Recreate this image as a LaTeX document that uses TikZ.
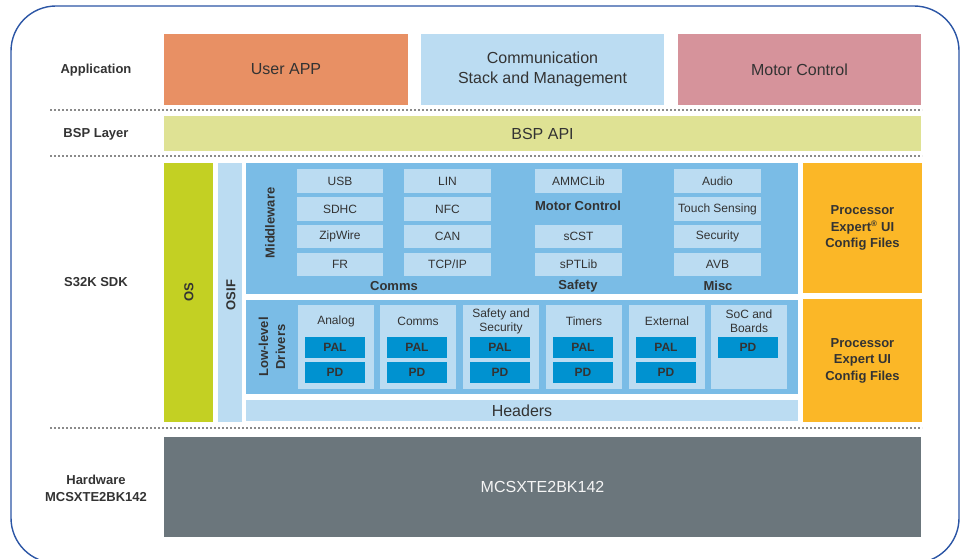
\documentclass[tikz,border=0pt]{standalone}
\usepackage{fontspec}
\setmainfont{Liberation Sans}
\definecolor{txt}{HTML}{333333}
\definecolor{appor}{HTML}{E89064}
\definecolor{ltblue}{HTML}{BBDCF2}
\definecolor{pinkc}{HTML}{D6939B}
\definecolor{bspc}{HTML}{DFE294}
\definecolor{limec}{HTML}{C3D023}
\definecolor{midblue}{HTML}{7ABCE6}
\definecolor{palblue}{HTML}{0092D0}
\definecolor{orc}{HTML}{FBB727}
\definecolor{hwgrey}{HTML}{6B767C}
\definecolor{frame}{HTML}{2B55A5}
\definecolor{dotc}{HTML}{8A8A8A}
\newcommand\mkbox[7]{\node[#6, minimum width={((#4)-(#2))*1pt}, minimum height={((#5)-(#3))*1pt}] (#1) at ({((#2)+(#4))/2},{((#3)+(#5))/2}) {#7};}
\tikzset{
  blk/.style={inner sep=0pt, outer sep=0pt, align=center, text=txt},
  big/.style={blk, font=\fontsize{16}{20}\selectfont},
  sml/.style={blk, fill=ltblue, font=\fontsize{12}{14}\selectfont},
  lbl/.style={blk, font=\bfseries\fontsize{13}{16}\selectfont},
  pal/.style={blk, fill=palblue, font=\bfseries\fontsize{12}{14}\selectfont},
  dotline/.style={draw=dotc, line width=1.8pt, dash pattern=on 1.8pt off 2.2pt}
}
\begin{document}
\begin{tikzpicture}[x=1pt,y=-1pt]
\useasboundingbox (0,0) rectangle (963,559);
\begin{scope}
\clip (0,0) rectangle (963,559);
\draw[frame, line width=1.4pt, rounded corners=45pt] (11,6) rectangle (959,563);
\end{scope}
% left labels
\node[lbl] (lapp) at (96,70) {Application};
\node[lbl] (lbsp) at (96,134) {BSP Layer};
\node[lbl] (lsdk) at (96,282) {S32K SDK};
\node[lbl, font=\bfseries\fontsize{13}{17}\selectfont] (lhw) at (96,488) {Hardware\\MCSXTE2BK142};
% dotted separators
\coordinate (d1a) at (50,110); \coordinate (d1b) at (922,110);
\coordinate (d2a) at (50,156); \coordinate (d2b) at (922,156);
\coordinate (d3a) at (50,428); \coordinate (d3b) at (922,428);
\draw[dotline] (d1a) -- (d1b);
\draw[dotline] (d2a) -- (d2b);
\draw[dotline] (d3a) -- (d3b);
% application layer
\mkbox{uapp}{164}{34}{408}{105}{big, fill=appor}{User APP}
\mkbox{comm}{421}{34}{664}{105}{big, fill=ltblue}{Communication\\Stack and Management}
\mkbox{motc}{678}{34}{921}{105}{big, fill=pinkc}{Motor Control}
% BSP
\mkbox{bsp}{164}{116}{921}{151}{big, fill=bspc}{BSP API}
% SDK
\mkbox{os}{164}{163}{213}{422}{blk, fill=limec}{}
\node[lbl, rotate=90] (ost) at (189,292) {OS};
\mkbox{osif}{218}{163}{242}{422}{blk, fill=ltblue}{}
\node[lbl, rotate=90] (osift) at (231,295) {OSIF};
\mkbox{mw}{246}{163}{798}{294}{blk, fill=midblue}{}
\node[lbl, rotate=90] (mwt) at (270,223) {Middleware};
% middleware small boxes
\mkbox{usb}{297}{169}{383}{193}{sml}{USB}
\mkbox{sdhc}{297}{197}{383}{221}{sml}{SDHC}
\mkbox{zip}{297}{225}{383}{248}{sml}{ZipWire}
\mkbox{fr}{297}{253}{383}{276}{sml}{FR}
\mkbox{lin}{404}{169}{491}{193}{sml}{LIN}
\mkbox{nfc}{404}{197}{491}{221}{sml}{NFC}
\mkbox{can}{404}{225}{491}{248}{sml}{CAN}
\mkbox{tcp}{404}{253}{491}{276}{sml}{TCP/IP}
\mkbox{ammc}{535}{169}{622}{193}{sml}{AMMCLib}
\node[lbl] (mct) at (578,206) {Motor Control};
\mkbox{scst}{535}{225}{622}{248}{sml}{sCST}
\mkbox{sptl}{535}{253}{622}{276}{sml}{sPTLib}
\mkbox{aud}{674}{169}{761}{193}{sml}{Audio}
\mkbox{touch}{674}{197}{761}{221}{sml}{Touch Sensing}
\mkbox{sec}{674}{225}{761}{248}{sml}{Security}
\mkbox{avb}{674}{253}{761}{276}{sml}{AVB}
\node[lbl] (commst) at (394,286) {Comms};
\node[lbl] (safet) at (578,286) {Safety};
\node[lbl] (misct) at (718,286) {Misc};
% processor expert boxes
\mkbox{pe1}{803}{163}{922}{293}{lbl, fill=orc, font=\bfseries\fontsize{13}{16.5}\selectfont}{Processor\\Expert\textsuperscript{\fontsize{8}{8}\selectfont ®} UI\\Config Files}
\mkbox{pe2}{803}{299}{922}{422}{lbl, fill=orc, font=\bfseries\fontsize{13}{16.5}\selectfont}{Processor\\Expert UI\\Config Files}
% low-level drivers
\mkbox{lld}{246}{300}{798}{394}{blk, fill=midblue}{}
\node[lbl, rotate=90, font=\bfseries\fontsize{13}{17}\selectfont] (lldt) at (272,347) {Low-level\\Drivers};
\foreach \i/\x/\t in {1/298/Analog, 2/380/Comms, 3/463/{Safety and\\Security}, 4/546/Timers, 5/629/External, 6/711/{SoC and\\Boards}}{
  \mkbox{drv\i}{\x}{305}{\x+76}{389}{blk, fill=ltblue}{}
  \node[blk, font=\fontsize{12}{14}\selectfont] (drvt\i) at (\x+38,321) {\t};
}
\foreach \i/\x in {1/298, 2/380, 3/463, 4/546, 5/629}{
  \mkbox{pal\i}{\x+7}{337}{\x+67}{358}{pal}{PAL}
  \mkbox{pd\i}{\x+7}{362}{\x+67}{383}{pal}{PD}
}
\mkbox{pd6}{718}{337}{778}{358}{pal}{PD}
% headers
\mkbox{hdr}{246}{400}{798}{421}{big, fill=ltblue}{Headers}
% hardware
\mkbox{hw}{164}{437}{921}{537}{big, fill=hwgrey, text=white!92!gray}{MCSXTE2BK142}
\end{tikzpicture}
\end{document}
